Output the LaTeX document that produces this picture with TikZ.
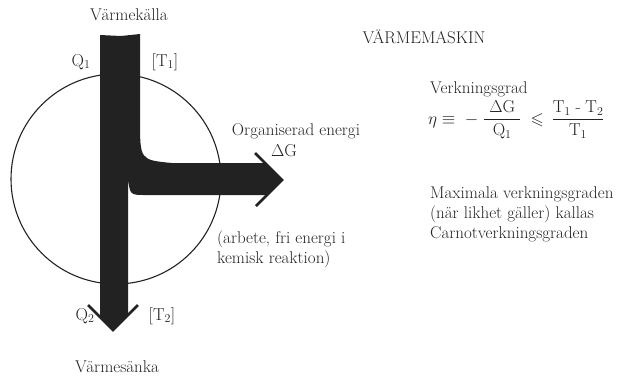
\documentclass[tikz,border=0pt]{standalone}
\usepackage{amsmath,amssymb}
\definecolor{ink}{HTML}{222222}
\begin{document}
\begin{tikzpicture}[x=1pt,y=-1pt,
  lbl/.style={font=\fontsize{17}{20}\selectfont, inner sep=0pt, text=ink},
  barb/.style={draw=ink, line width=2.6pt, line join=miter, line cap=butt}]
\useasboundingbox (0,0) rectangle (629,378);
% circle
\node[circle, draw=ink, line width=1.1pt, minimum size=210pt, inner sep=0pt] (engine) at (116,179) {};
% flow shape
\fill[ink] (100,35) -- (121,36) -- (140,34) -- (140,120)
  .. controls (140,160) .. (172,163) -- (265,163) -- (282,180) -- (267,195)
  -- (146,195) .. controls (130,195) .. (128,178) -- (128,315) -- (113,330)
  -- (100,317) -- cycle;
\coordinate (tipR) at (282,180);
\coordinate (tipD) at (113,330);
\draw[barb] (255,153) -- (tipR) -- (256,206);
\draw[barb] (88,305) -- (tipD) -- (138,305);
% labels
\node[lbl] (src) at (129,15) {Värmekälla};
\node[lbl] (q1) at (81,62) {$\mathrm{Q}_1$};
\node[lbl] (t1) at (165,62) {$[\mathrm{T}_1]$};
\node[lbl] (org) at (296,131) {Organiserad energi};
\node[lbl] (dg) at (284,151) {$\Delta\mathrm{G}$};
\node[lbl, align=left, anchor=west] (work) at (217,249) {(arbete, fri energi i\\kemisk reaktion)};
\node[lbl] (q2) at (85,316) {$\mathrm{Q}_2$};
\node[lbl] (t2) at (162,316) {$[\mathrm{T}_2]$};
\node[lbl] (sink) at (117,367) {Värmesänka};
\node[lbl] (title) at (424,37) {VÄRMEMASKIN};
\node[lbl, anchor=west] (verk) at (430,89) {Verkningsgrad};
\node[lbl, anchor=west] (eq) at (428,120) {$\eta \equiv\; - \;\dfrac{\;\Delta\mathrm{G}\;}{\mathrm{Q}_1} \;\leqslant\, \dfrac{\mathrm{T}_1\;\text{-}\;\mathrm{T}_2}{\mathrm{T}_1}$};
\node[lbl, align=left, anchor=west] (carnot) at (430,214) {Maximala verkningsgraden\\(när likhet gäller) kallas\\Carnotverkningsgraden};
\end{tikzpicture}
\end{document}
